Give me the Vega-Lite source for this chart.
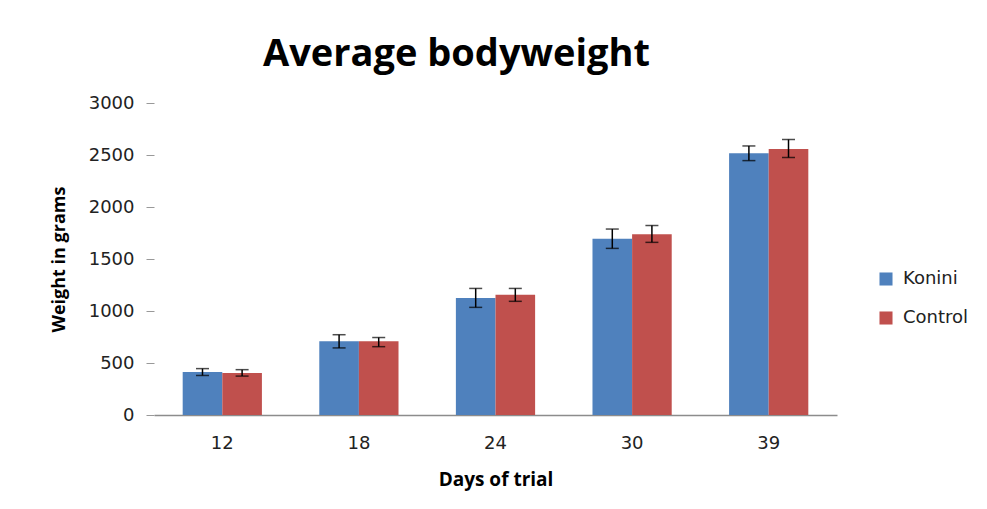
{
  "$schema": "https://vega.github.io/schema/vega-lite/v6.json",
  "autosize": {"type": "none"},
  "padding": {"left": 154, "top": 103, "right": 150, "bottom": 94},
  "width": 683,
  "height": 312,
  "background": "white",
  "config": {"view": {"stroke": null}},
  "title": {
    "text": "Average bodyweight",
    "font": "Open Sans",
    "fontSize": 38,
    "fontWeight": "bold",
    "color": "black",
    "anchor": "start",
    "frame": "group",
    "dx": 109,
    "offset": 20
  },
  "data": {
    "values": [
      {"day": "12", "group": "Konini", "mean": 413, "lo": 380, "hi": 446},
      {"day": "12", "group": "Control", "mean": 404, "lo": 374, "hi": 436},
      {"day": "18", "group": "Konini", "mean": 709, "lo": 645, "hi": 772},
      {"day": "18", "group": "Control", "mean": 709, "lo": 657, "hi": 745},
      {"day": "24", "group": "Konini", "mean": 1125, "lo": 1035, "hi": 1217},
      {"day": "24", "group": "Control", "mean": 1157, "lo": 1093, "hi": 1217},
      {"day": "30", "group": "Konini", "mean": 1695, "lo": 1602, "hi": 1788},
      {"day": "30", "group": "Control", "mean": 1737, "lo": 1660, "hi": 1822},
      {"day": "39", "group": "Konini", "mean": 2516, "lo": 2446, "hi": 2587},
      {"day": "39", "group": "Control", "mean": 2558, "lo": 2476, "hi": 2649}
    ]
  },
  "encoding": {
    "x": {
      "field": "day",
      "type": "nominal",
      "sort": ["12", "18", "24", "30", "39"],
      "scale": {"paddingInner": 0.42, "paddingOuter": 0.21},
      "axis": {
        "title": "Days of trial",
        "titleFont": "Open Sans",
        "titleFontSize": 19,
        "titleFontWeight": "bold",
        "titleColor": "black",
        "titlePadding": 18,
        "labelAngle": 0,
        "labelFont": "DejaVu Sans",
        "labelFontSize": 18,
        "labelColor": "#222",
        "labelPadding": 19,
        "ticks": false,
        "domainColor": "#8c8c8c",
        "domainWidth": 1.5
      }
    },
    "xOffset": {
      "field": "group",
      "type": "nominal",
      "sort": ["Konini", "Control"],
      "scale": {"paddingInner": 0, "paddingOuter": 0}
    }
  },
  "layer": [
    {
      "mark": {"type": "bar"},
      "encoding": {
        "y": {
          "field": "mean",
          "type": "quantitative",
          "scale": {"domain": [0, 3000]},
          "axis": {
            "title": "Weight in grams",
            "titleFont": "Open Sans",
            "titleFontSize": 18,
            "titleFontWeight": "bold",
            "titleColor": "black",
            "titlePadding": 20,
            "values": [0, 500, 1000, 1500, 2000, 2500, 3000],
            "format": "d",
            "labelFont": "DejaVu Sans",
            "labelFontSize": 18,
            "labelColor": "#222",
            "labelPadding": 12,
            "domain": false,
            "grid": false,
            "tickColor": "#999999",
            "tickSize": 8
          }
        },
        "color": {
          "field": "group",
          "type": "nominal",
          "scale": {"domain": ["Konini", "Control"], "range": ["#4F81BD", "#C0504D"]},
          "legend": {
            "title": null,
            "orient": "none",
            "legendX": 723,
            "legendY": 167,
            "symbolType": "square",
            "symbolSize": 170,
            "symbolStrokeWidth": 0,
            "labelFont": "DejaVu Sans",
            "labelFontSize": 18,
            "labelColor": "#222",
            "rowPadding": 21,
            "labelOffset": 8
          }
        }
      }
    },
    {
      "mark": {"type": "rule", "color": "black", "strokeWidth": 1.5},
      "encoding": {
        "y": {"field": "lo", "type": "quantitative"},
        "y2": {"field": "hi"}
      }
    },
    {
      "mark": {"type": "tick", "color": "black", "thickness": 1.5, "size": 13},
      "encoding": {"y": {"field": "lo", "type": "quantitative"}}
    },
    {
      "mark": {"type": "tick", "color": "black", "thickness": 1.5, "size": 13},
      "encoding": {"y": {"field": "hi", "type": "quantitative"}}
    }
  ]
}
